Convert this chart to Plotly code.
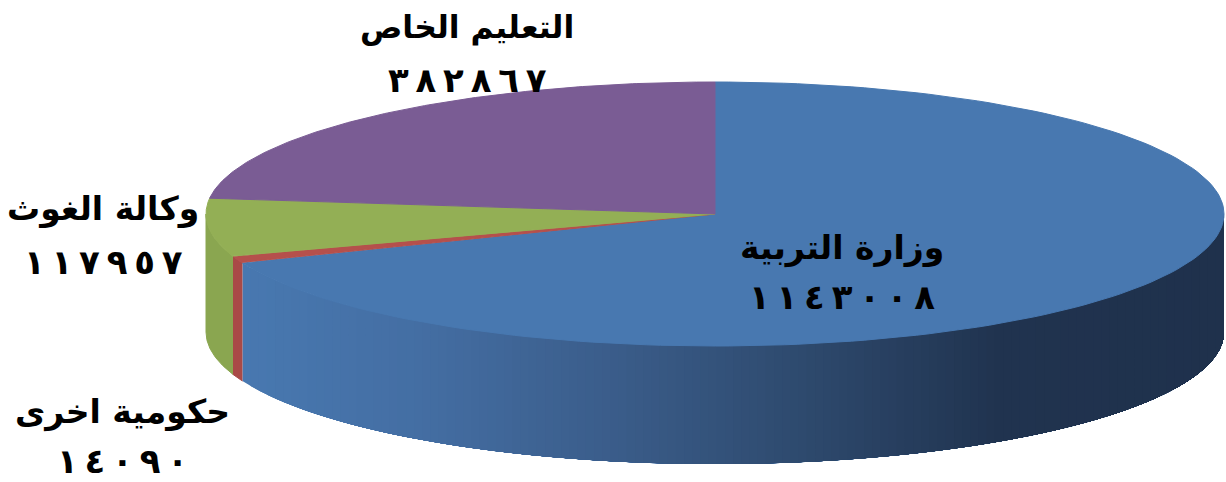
import math
import plotly.graph_objects as go

categories = ["وزارة التربية", "حكومية اخرى", "وكالة الغوث", "التعليم الخاص"]
values = [1143008, 14090, 117957, 382867]
top_colors = ["#4878b0", "#b5504c", "#93af55", "#7a5c94"]
wall_colors = ["#4878b0", "#a94a47", "#8aa650", "#7a5c94"]
label_pos = [(842, 248, 297), (122, 412, 461), (103, 209, 262), (467, 27, 80)]
name_sizes = [33, 33, 33, 31.5]

W, H = 1226, 482
CX, CY, A, B, DEPTH = 715, 214, 509, 132, 118
BLUE_STOPS = [(245, (72, 120, 176)), (420, (68, 110, 163)), (620, (58, 92, 137)),
              (800, (46, 74, 110)), (1000, (32, 51, 79)), (1226, (31, 49, 76))]

def pt(t, dy=0):
    return CX + A * math.sin(t), CY - B * math.cos(t) + dy

def arc(t0, t1, n, dy=0):
    pts = [pt(t0 + (t1 - t0) * i / n, dy) for i in range(n + 1)]
    return [p[0] for p in pts], [p[1] for p in pts]

def blue_shade(x):
    for (x0, c0), (x1, c1) in zip(BLUE_STOPS, BLUE_STOPS[1:]):
        if x <= x1:
            f = max(0, (x - x0) / (x1 - x0))
            return "rgb(%d,%d,%d)" % tuple(round(a + (b - a) * f) for a, b in zip(c0, c1))
    return "rgb(31,49,76)"

def poly(fig, xs, ys, color, lw=1):
    fig.add_trace(go.Scatter(x=xs, y=ys, mode="lines", fill="toself", fillcolor=color,
                             line=dict(color=color, width=lw), hoverinfo="skip", showlegend=False))

def digits(v):
    d = "٠١٢٣٤٥٦٧٨٩"
    return "\u202d" + "\u2009".join(d[int(c)] for c in str(v)) + "\u202c"

total = sum(values)
edges = [0]
for v in values:
    edges.append(edges[-1] + v / total * 2 * math.pi)

fig = go.Figure()
# side walls: only the front half of the rim is visible
for i in range(3):
    t0, t1 = edges[i], edges[i + 1]
    lo, hi = max(t0, math.pi / 2), min(t1, 3 * math.pi / 2)
    if hi <= lo:
        continue
    if i == 0:
        # overlapping vertical strips, painted left to right, give a smooth gradient
        xa, xb = pt(hi)[0], pt(lo)[0]
        n = 120
        for k in range(n):
            xl = xa + (xb - xa) * k / n
            xr = xb  # each strip runs to the far edge and is covered by the next one
            a0 = math.pi - math.asin(max(-1, min(1, (xr - CX) / A)))
            a1 = math.pi - math.asin(max(-1, min(1, (xl - CX) / A)))
            x1, y1 = arc(a0, a1, 60)
            x2, y2 = arc(a0, a1, 60, DEPTH)
            poly(fig, x1 + x2[::-1], y1 + y2[::-1], blue_shade(xl + (xb - xa) / n / 2), lw=0)
    else:
        x1, y1 = arc(lo, hi, 40)
        x2, y2 = arc(lo, hi, 40, DEPTH)
        poly(fig, x1 + x2[::-1], y1 + y2[::-1], wall_colors[i])

# top faces
for i in range(4):
    x, y = arc(edges[i], edges[i + 1], 160)
    poly(fig, [CX] + x + [CX], [CY] + y + [CY], top_colors[i])

FAMILY = "DejaVu Sans, Noto Sans, sans-serif"
for cat, val, (lx, y1, y2), size in zip(categories, values, label_pos, name_sizes):
    fig.add_annotation(x=lx, y=y1, text="<b>%s</b>" % cat, showarrow=False,
                       font=dict(family=FAMILY, size=size, color="#000000"))
    fig.add_annotation(x=lx, y=y2, text="<b>%s</b>" % digits(val), showarrow=False,
                       font=dict(family=FAMILY, size=34, color="#000000"))

fig.update_layout(width=W, height=H, margin=dict(l=0, r=0, t=0, b=0),
                  paper_bgcolor="white", plot_bgcolor="white", showlegend=False,
                  xaxis=dict(range=[0, W], visible=False, fixedrange=True),
                  yaxis=dict(range=[H, 0], visible=False, fixedrange=True))
fig.write_html("out.html", config={"displayModeBar": False},
               post_script="document.body.style.margin='0';")
